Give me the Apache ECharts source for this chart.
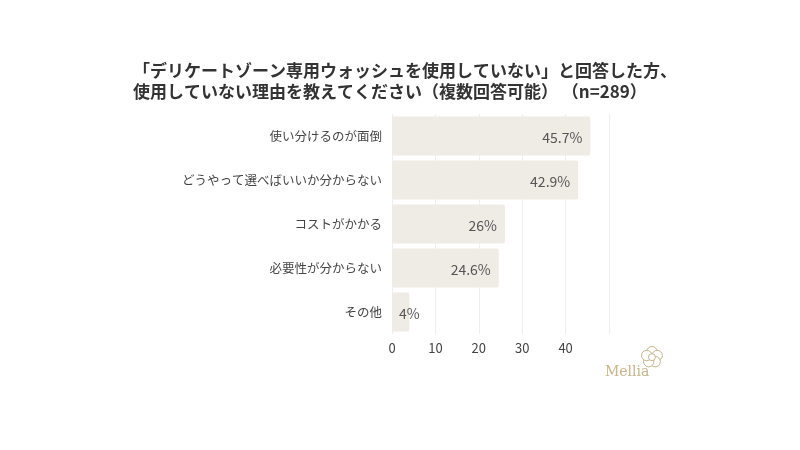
<!DOCTYPE html>
<html><head><meta charset="utf-8">
<script src="https://cdn.jsdelivr.net/npm/echarts@6/dist/echarts.min.js"></script>
<style>html,body{margin:0;padding:0;background:#fff}#c{width:800px;height:450px}</style>
</head><body><div id="c"></div>
<script>
const categories = ['使い分けるのが面倒','どうやって選べばいいか分からない','コストがかかる','必要性が分からない','その他'];
const values = [45.7, 42.9, 26, 24.6, 4];
const labels = ['45.7%','42.9%','26%','24.6%','4%'];
const titleText = '「デリケートゾーン専用ウォッシュを使用していない」と回答した方、\n使用していない理由を教えてください（複数回答可能） （n=289）';

const barData = values.map(v => v < 10
  ? { value: v, label: { position: 'insideLeft', distance: 7 } }
  : { value: v });

const petals = [];
for (let i = 0; i < 5; i++) {
  const a = -Math.PI / 2 + i * 2 * Math.PI / 5;
  petals.push({ type: 'circle', shape: { cx: 11 + 5.5 * Math.cos(a), cy: 11 + 5.5 * Math.sin(a), r: 5.2 },
    style: { fill: '#fff', stroke: '#c9b48c', lineWidth: 1 } });
}
petals.push({ type: 'circle', shape: { cx: 11, cy: 11, r: 3.5 }, style: { fill: '#fff', stroke: '#c9b48c', lineWidth: 1 } });

const chart = echarts.init(document.getElementById('c'));
chart.setOption({
  backgroundColor: '#fff',
  animation: false,
  title: {
    text: titleText,
    left: 128, top: 55,
    textStyle: { fontFamily: 'Noto Sans CJK JP', fontSize: 17, fontWeight: 'bold', color: '#333', lineHeight: 21 }
  },
  grid: { left: 392, right: 191, top: 114, bottom: 116, containLabel: false },
  xAxis: {
    type: 'value', min: 0, max: 50, interval: 10,
    axisLine: { show: false }, axisTick: { show: false },
    splitLine: { lineStyle: { color: '#eeeeee' } },
    axisLabel: { color: '#444', fontSize: 13, fontFamily: 'Noto Sans CJK JP', margin: 8,
      formatter: v => v >= 50 ? '' : String(v) }
  },
  yAxis: {
    type: 'category', data: categories, inverse: true,
    axisLine: { show: false }, axisTick: { show: false },
    axisLabel: { color: '#444', fontSize: 12.5, fontFamily: 'Noto Sans CJK JP', margin: 10 }
  },
  series: [{
    type: 'bar', data: barData, barCategoryGap: '11%',
    itemStyle: { color: '#efece6', borderRadius: 2 },
    label: { show: true, position: 'insideRight', distance: 8, color: '#555', fontSize: 14, fontFamily: 'Noto Sans CJK JP',
      offset: [0, 2],
      formatter: p => labels[p.dataIndex] }
  }],
  graphic: [
    { type: 'text', left: 605, top: 365, style: { text: 'Mellia', fontFamily: 'DejaVu Serif', fontSize: 14, fill: '#c9b48c' } },
    { type: 'group', left: 641, top: 346, children: petals }
  ]
});
</script></body></html>
